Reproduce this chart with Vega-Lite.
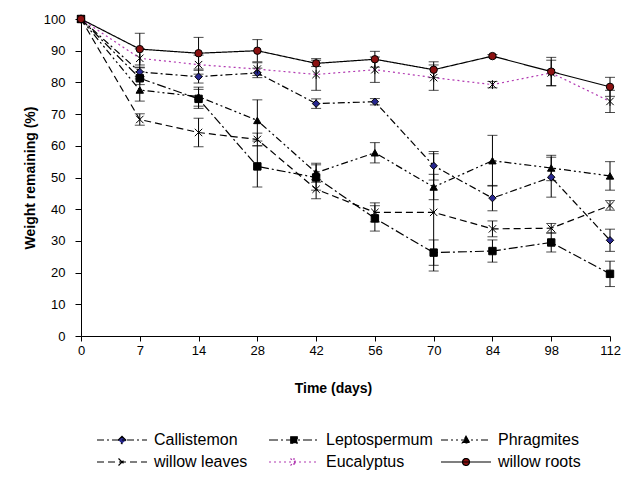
{
  "$schema": "https://vega.github.io/schema/vega-lite/v6.json",
  "width": 529,
  "height": 317,
  "autosize": "none",
  "padding": {"left": 81, "top": 19, "right": 31, "bottom": 150},
  "background": "white",
  "config": {
    "view": {"stroke": null},
    "font": "Liberation Sans",
    "axis": {"domainColor": "black", "tickColor": "black", "labelColor": "black", "titleColor": "black", "grid": false, "labelFont": "Liberation Sans", "titleFont": "Liberation Sans"}
  },
  "data": {
    "values": [
      {"day": 0, "series": "Callistemon", "value": 100, "err": 0},
      {"day": 7, "series": "Callistemon", "value": 83.3, "err": 1.5},
      {"day": 14, "series": "Callistemon", "value": 81.8, "err": 2},
      {"day": 28, "series": "Callistemon", "value": 83, "err": 1.5},
      {"day": 42, "series": "Callistemon", "value": 73.3, "err": 1.5},
      {"day": 56, "series": "Callistemon", "value": 73.9, "err": 1},
      {"day": 70, "series": "Callistemon", "value": 53.7, "err": 4.5},
      {"day": 84, "series": "Callistemon", "value": 43.5, "err": 4},
      {"day": 98, "series": "Callistemon", "value": 50.1, "err": 6.3},
      {"day": 112, "series": "Callistemon", "value": 30.2, "err": 3.5},
      {"day": 0, "series": "Leptospermum", "value": 100, "err": 0},
      {"day": 7, "series": "Leptospermum", "value": 81.3, "err": 2},
      {"day": 14, "series": "Leptospermum", "value": 74.8, "err": 3},
      {"day": 28, "series": "Leptospermum", "value": 53.5, "err": 6.5},
      {"day": 42, "series": "Leptospermum", "value": 50, "err": 4},
      {"day": 56, "series": "Leptospermum", "value": 37.1, "err": 4},
      {"day": 70, "series": "Leptospermum", "value": 26.3, "err": 4},
      {"day": 84, "series": "Leptospermum", "value": 26.8, "err": 3.5},
      {"day": 98, "series": "Leptospermum", "value": 29.5, "err": 3},
      {"day": 112, "series": "Leptospermum", "value": 19.6, "err": 4},
      {"day": 0, "series": "Phragmites", "value": 100, "err": 0},
      {"day": 7, "series": "Phragmites", "value": 77.6, "err": 3.5},
      {"day": 14, "series": "Phragmites", "value": 75.5, "err": 3},
      {"day": 28, "series": "Phragmites", "value": 68, "err": 6.5},
      {"day": 42, "series": "Phragmites", "value": 51.5, "err": 3},
      {"day": 56, "series": "Phragmites", "value": 57.8, "err": 3.2},
      {"day": 70, "series": "Phragmites", "value": 47, "err": 4},
      {"day": 84, "series": "Phragmites", "value": 55.3, "err": 8},
      {"day": 98, "series": "Phragmites", "value": 53, "err": 4},
      {"day": 112, "series": "Phragmites", "value": 50.5, "err": 4.5},
      {"day": 0, "series": "willow leaves", "value": 100, "err": 0},
      {"day": 7, "series": "willow leaves", "value": 68.3, "err": 1.8},
      {"day": 14, "series": "willow leaves", "value": 64.2, "err": 4.5},
      {"day": 28, "series": "willow leaves", "value": 62, "err": 2},
      {"day": 42, "series": "willow leaves", "value": 46.3, "err": 3},
      {"day": 56, "series": "willow leaves", "value": 39, "err": 3},
      {"day": 70, "series": "willow leaves", "value": 39, "err": 18.5},
      {"day": 84, "series": "willow leaves", "value": 33.8, "err": 2.5},
      {"day": 98, "series": "willow leaves", "value": 34, "err": 1.5},
      {"day": 112, "series": "willow leaves", "value": 41.2, "err": 1.5},
      {"day": 0, "series": "Eucalyptus", "value": 100, "err": 0},
      {"day": 7, "series": "Eucalyptus", "value": 87.6, "err": 3},
      {"day": 14, "series": "Eucalyptus", "value": 85.6, "err": 3},
      {"day": 28, "series": "Eucalyptus", "value": 84.2, "err": 2},
      {"day": 42, "series": "Eucalyptus", "value": 82.5, "err": 5},
      {"day": 56, "series": "Eucalyptus", "value": 84, "err": 4},
      {"day": 70, "series": "Eucalyptus", "value": 81.5, "err": 4},
      {"day": 84, "series": "Eucalyptus", "value": 79.3, "err": 1},
      {"day": 98, "series": "Eucalyptus", "value": 83, "err": 4},
      {"day": 112, "series": "Eucalyptus", "value": 74, "err": 3.5},
      {"day": 0, "series": "willow roots", "value": 100, "err": 0},
      {"day": 7, "series": "willow roots", "value": 90.5, "err": 5},
      {"day": 14, "series": "willow roots", "value": 89.2, "err": 5},
      {"day": 28, "series": "willow roots", "value": 90, "err": 3.5},
      {"day": 42, "series": "willow roots", "value": 86, "err": 1},
      {"day": 56, "series": "willow roots", "value": 87.3, "err": 2.5},
      {"day": 70, "series": "willow roots", "value": 84, "err": 2.5},
      {"day": 84, "series": "willow roots", "value": 88.3, "err": 0.5},
      {"day": 98, "series": "willow roots", "value": 83.4, "err": 4.5},
      {"day": 112, "series": "willow roots", "value": 78.6, "err": 3}
    ]
  },
  "encoding": {
    "x": {
      "field": "day", "type": "ordinal",
      "scale": {"type": "point", "padding": 0},
      "axis": {"title": "Time (days)", "labelAngle": 0, "labelFontSize": 13, "titleFontSize": 14, "titleFontWeight": "bold", "tickSize": 5, "labelPadding": 3, "titlePadding": 24, "titleX": 252}
    },
    "y": {
      "field": "value", "type": "quantitative",
      "scale": {"domain": [0, 100], "nice": false},
      "axis": {"title": "Weight remaining (%)", "values": [0,10,20,30,40,50,60,70,80,90,100], "labelFontSize": 13, "titleFontSize": 14, "titleFontWeight": "bold", "tickSize": 6, "labelPadding": 10, "titlePadding": 6}
    }
  },
  "layer": [
    {
      "mark": {"type": "line", "strokeWidth": 1.2},
      "encoding": {
        "stroke": {
          "field": "series", "type": "nominal",
          "scale": {"domain": ["willow roots", "Eucalyptus", "willow leaves", "Phragmites", "Leptospermum", "Callistemon"], "range": ["black", "#b23ab2", "black", "black", "black", "black"]},
          "legend": null
        },
        "strokeDash": {
          "field": "series", "type": "nominal",
          "scale": {"domain": ["willow roots", "Eucalyptus", "willow leaves", "Phragmites", "Leptospermum", "Callistemon"], "range": [[1,0],[2,3],[7,4],[7,3,2,3,2,3],[9,3,2,3],[7,3,2,3]]},
          "legend": null
        },
        "opacity": {
          "field": "series", "type": "nominal",
          "scale": {"domain": ["Callistemon", "Leptospermum", "Phragmites", "willow leaves", "Eucalyptus", "willow roots"], "range": [1, 1, 1, 1, 1, 1]},
          "legend": {
            "title": null,
            "orient": "none",
            "legendX": 33,
            "legendY": 413,
            "columns": 3,
            "direction": "horizontal",
            "gridAlign": "all",
            "columnPadding": 5,
            "rowPadding": 6,
            "symbolSize": 100,
            "labelOffset": 24,
            "labelFontSize": 16,
            "labelFont": "Liberation Sans",
            "labelColor": "black",
            "encode": {
              "symbols": {
                "update": {
                  "shape": {"signal": "datum.value === 'Callistemon' ? 'M-5,0L5,0M0,-0.75L0.75,0L0,0.75L-0.75,0Z' : datum.value === 'Leptospermum' ? 'M-5,0L5,0M-0.65,-0.65L0.65,-0.65L0.65,0.65L-0.65,0.65Z' : datum.value === 'Phragmites' ? 'M-5,0L5,0M0,-0.75L0.75,0.6L-0.75,0.6Z' : datum.value === 'willow leaves' ? 'M-5,0L5,0M-0.7,-0.7L0.7,0.7M-0.7,0.7L0.7,-0.7' : datum.value === 'Eucalyptus' ? 'M-5,0L5,0M-0.7,-0.7L0.7,0.7M-0.7,0.7L0.7,-0.7M0,-0.8L0,0.8' : 'M-5,0L5,0M0.7,0A0.7,0.7,0,1,1,-0.7,0A0.7,0.7,0,1,1,0.7,0Z'"},
                  "fill": {"signal": "datum.value === 'Callistemon' ? '#27278f' : datum.value === 'willow roots' ? '#8b1111' : datum.value === 'Eucalyptus' ? 'transparent' : 'black'"},
                  "stroke": {"signal": "datum.value === 'Eucalyptus' ? '#b23ab2' : 'black'"},
                  "strokeDash": {"signal": "datum.value === 'Callistemon' ? [7,3,2,3] : datum.value === 'Leptospermum' ? [9,3,2,3] : datum.value === 'Phragmites' ? [7,3,2,3,2,3] : datum.value === 'willow leaves' ? [7,4] : datum.value === 'Eucalyptus' ? [2,3] : [1,0]"},
                  "strokeWidth": {"value": 1.2},
                  "fillOpacity": {"value": 1},
                  "strokeOpacity": {"value": 1},
                  "size": {"value": 100}
                }
              }
            }
          }
        }
      }
    },
    {
      "transform": [{"filter": "datum.err > 0"}],
      "mark": {"type": "errorbar", "ticks": {"size": 10, "thickness": 1, "color": "black"}, "rule": {"color": "black", "strokeWidth": 1}},
      "encoding": {
        "y": {"field": "value", "type": "quantitative"},
        "yError": {"field": "err"}
      }
    },
    {
      "mark": {"type": "point", "filled": true, "size": 55, "stroke": "black", "strokeWidth": 1, "opacity": 1},
      "encoding": {
        "shape": {
          "field": "series", "type": "nominal",
          "scale": {"domain": ["willow roots", "Eucalyptus", "willow leaves", "Phragmites", "Leptospermum", "Callistemon"], "range": ["circle", "M-1,-1L1,1M-1,1L1,-1M0,-1.2L0,1.2", "M-1,-1L1,1M-1,1L1,-1", "triangle-up", "square", "diamond"]},
          "legend": null
        },
        "fill": {
          "field": "series", "type": "nominal",
          "scale": {"domain": ["willow roots", "Eucalyptus", "willow leaves", "Phragmites", "Leptospermum", "Callistemon"], "range": ["#8b1111", "black", "black", "black", "black", "#27278f"]},
          "legend": null
        }
      }
    }
  ]
}
